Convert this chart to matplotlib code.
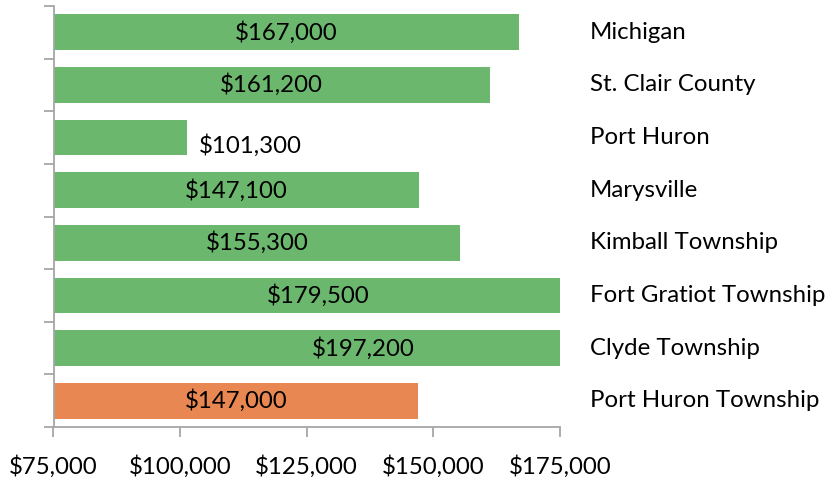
import matplotlib
matplotlib.use("Agg")
import matplotlib.pyplot as plt
from matplotlib.ticker import FuncFormatter

categories = ["Michigan", "St. Clair County", "Port Huron", "Marysville",
              "Kimball Township", "Fort Gratiot Township", "Clyde Township",
              "Port Huron Township"]
values = [167000, 161200, 101300, 147100, 155300, 179500, 197200, 147000]
bar_colors = ["#6BB76D"] * 7 + ["#E88752"]
x_ticks = [75000, 100000, 125000, 150000, 175000]
x_min, x_max = 75000, 175000

plt.rcParams['font.family'] = ['Lato', 'DejaVu Sans']
FS = 17.3

fig = plt.figure(figsize=(8.36, 4.82), dpi=100)
ax = fig.add_axes([53.5 / 836, (482 - 427) / 482, (560 - 53.5) / 836, (427 - 6) / 482])

y = list(range(len(categories)))
widths = [v - x_min for v in values]
ax.barh(y, widths, left=x_min, height=0.68, color=bar_colors, zorder=2)
ax.set_xlim(x_min, x_max)
ax.set_ylim(len(categories) - 0.5, -0.5)

ax.set_xticks(x_ticks)
ax.xaxis.set_major_formatter(FuncFormatter(lambda v, p: f"${v:,.0f}"))
ax.set_yticks([i - 0.5 for i in range(len(categories) + 1)])
ax.set_yticklabels([])

for s in ["top", "right"]:
    ax.spines[s].set_visible(False)
for s in ["left", "bottom"]:
    ax.spines[s].set_color("#A6A6A6")
    ax.spines[s].set_linewidth(1.3)
ax.tick_params(axis="both", color="#A6A6A6", width=1.3, length=7, direction="out")
ax.tick_params(axis="x", labelsize=FS, pad=13, labelcolor="#000000")

# value labels
for i, v in enumerate(values):
    label = f"${v:,.0f}"
    if v < 110000:
        ax.annotate(label, xy=(v, i), xytext=(8.6, -6), textcoords="offset points",
                    ha="left", va="center", fontsize=FS, color="#000000")
    else:
        ax.text((x_min + v) / 2, i, label, ha="center", va="center",
                fontsize=FS, color="#000000", zorder=3)

# category labels on the right
for i, c in enumerate(categories):
    ax.annotate(c, xy=(1.0, i), xycoords=("axes fraction", "data"),
                xytext=(21.6, 0), textcoords="offset points",
                ha="left", va="center", fontsize=FS, color="#000000")

fig.savefig("out.png", dpi=100)
